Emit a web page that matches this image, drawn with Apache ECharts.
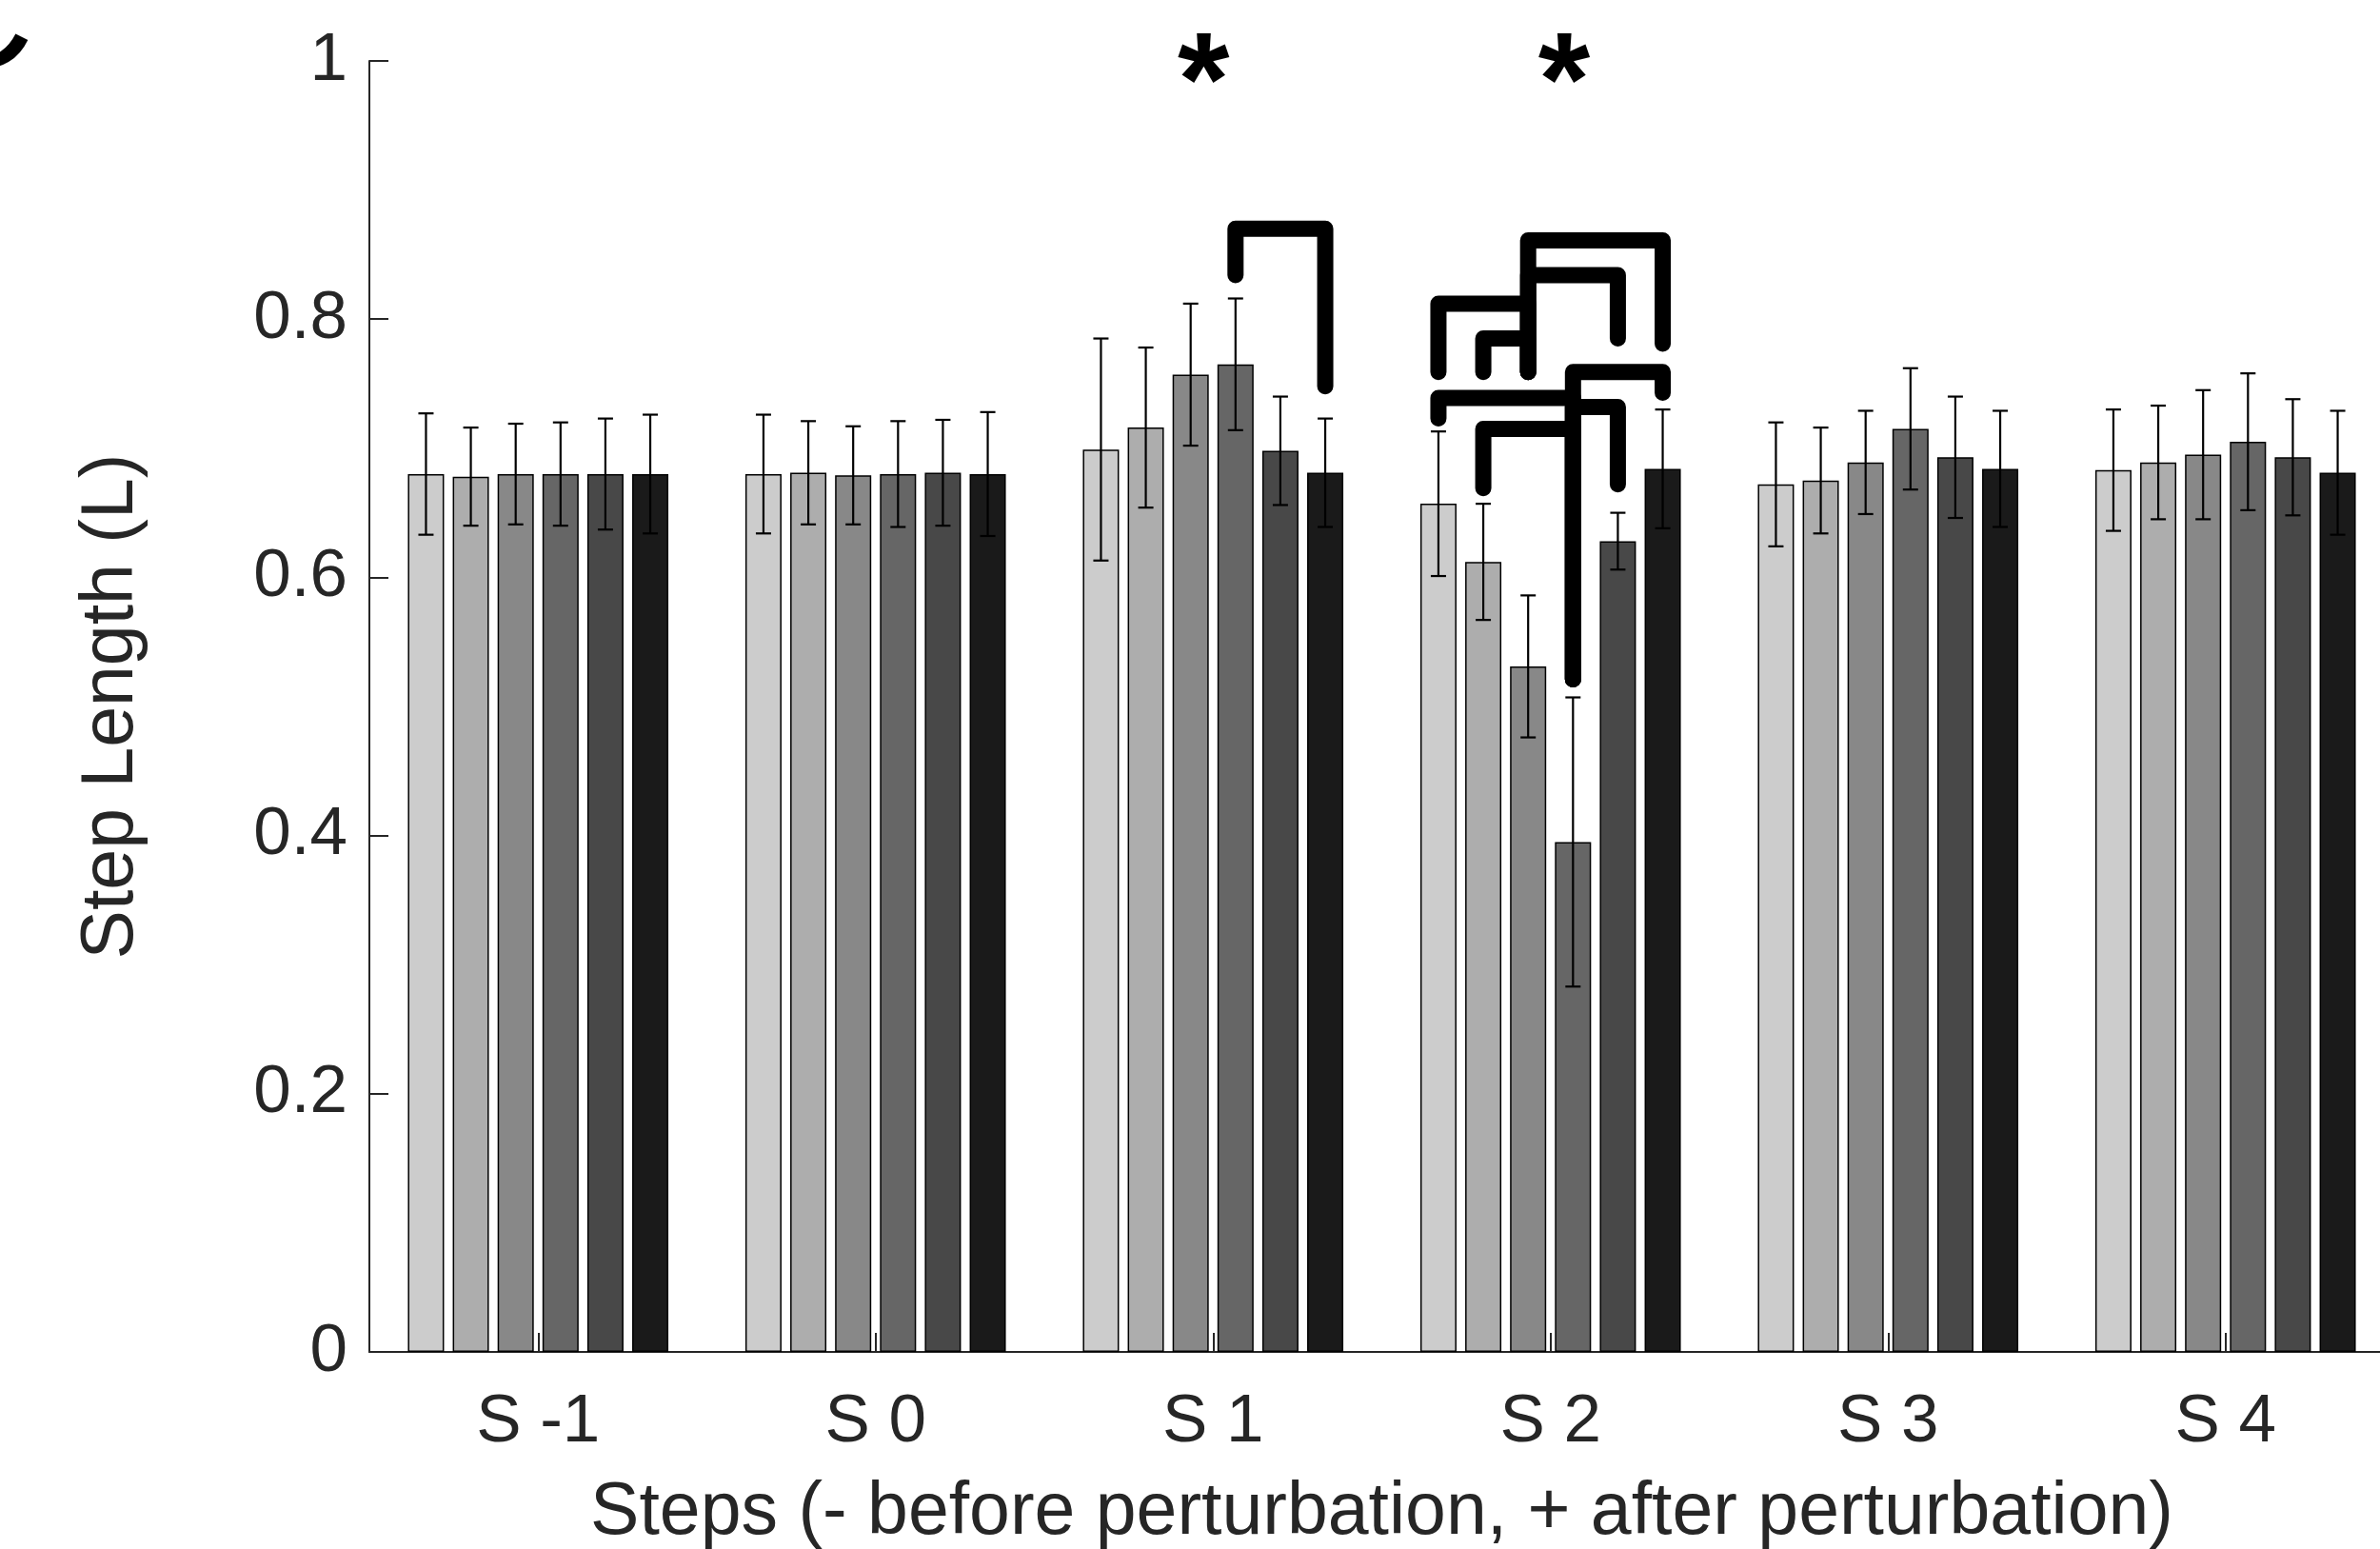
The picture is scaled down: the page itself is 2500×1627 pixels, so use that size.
<!DOCTYPE html>
<html>
<head>
<meta charset="utf-8">
<title>Step Length</title>
<script src="https://cdn.jsdelivr.net/npm/echarts@6/dist/echarts.min.js"></script>
<style>
  html, body { margin:0; padding:0; background:#fff; }
  #chart { width:2500px; height:1627px; }
</style>
</head>
<body>
<div id="chart"></div>
<script>
// ---- data ----
const steps = ['S -1','S 0','S 1','S 2','S 3','S 4'];

// mean step length per shade (light -> dark), one value per step
const mean1 = [0.680, 0.680, 0.699, 0.657, 0.672, 0.683];
const mean2 = [0.678, 0.681, 0.716, 0.612, 0.675, 0.689];
const mean3 = [0.680, 0.679, 0.757, 0.531, 0.689, 0.695];
const mean4 = [0.680, 0.680, 0.765, 0.395, 0.715, 0.705];
const mean5 = [0.680, 0.681, 0.698, 0.628, 0.693, 0.693];
const mean6 = [0.680, 0.680, 0.681, 0.684, 0.684, 0.681];

// error bar half-lengths
const err1 = [0.047, 0.046, 0.086, 0.056, 0.048, 0.047];
const err2 = [0.038, 0.040, 0.062, 0.045, 0.041, 0.044];
const err3 = [0.039, 0.038, 0.055, 0.055, 0.040, 0.050];
const err4 = [0.040, 0.041, 0.051, 0.112, 0.047, 0.053];
const err5 = [0.043, 0.041, 0.042, 0.022, 0.047, 0.045];
const err6 = [0.046, 0.048, 0.042, 0.046, 0.045, 0.048];

const shades = ['#cccccc','#adadad','#888888','#666666','#484848','#1a1a1a'];

// significance brackets: [step, barA, barB, top, endA, endB]
const brackets = [
  [2, 3, 5, 0.870, 0.834, 0.748],
  [3, 2, 5, 0.861, 0.759, 0.781],
  [3, 2, 4, 0.834, 0.759, 0.785],
  [3, 0, 2, 0.812, 0.759, 0.759],
  [3, 1, 2, 0.785, 0.759, 0.759],
  [3, 3, 5, 0.759, 0.521, 0.743],
  [3, 0, 3, 0.739, 0.723, 0.521],
  [3, 3, 4, 0.732, 0.521, 0.672],
  [3, 1, 3, 0.715, 0.669, 0.521]
];
// asterisks: [step, bar slot, value]
const stars = [
  [2, 2.29, 1.0],
  [3, 2.80, 1.0]
];

// ---- layout ----
const BAR_W = 38, BAR_GAP = 0.24;
const PITCH = BAR_W * (1 + BAR_GAP);
const INK = '#262626';
const FONT = "'Liberation Sans', Arial, sans-serif";

const means = [mean1, mean2, mean3, mean4, mean5, mean6];
const errs = [err1, err2, err3, err4, err5, err6];

const errData = [];
means.forEach((m, k)=>{
  m.forEach((v, g)=> errData.push([g, k, v - errs[k][g], v + errs[k][g]]));
});

function slotX(api, g, slot){
  return api.coord([g, 0])[0] + (slot - 2.5) * PITCH;
}

const series = means.map((m, k)=>({
  name: 'Shade ' + (k+1), type:'bar', data:m,
  barWidth: BAR_W, barGap: (BAR_GAP*100) + '%',
  itemStyle:{ color: shades[k], borderColor:'#000', borderWidth:1.5 },
  z: 2
}));

series.push({
  name:'errors', type:'custom', data: errData, z: 5,
  renderItem:(params, api)=>{
    const x = slotX(api, api.value(0), api.value(1));
    const lo = api.coord([api.value(0), api.value(2)])[1];
    const hi = api.coord([api.value(0), api.value(3)])[1];
    const st = { stroke:'#000', lineWidth:2.2 };
    return { type:'group', children:[
      { type:'line', shape:{ x1:x, y1:lo, x2:x, y2:hi }, style:st },
      { type:'line', shape:{ x1:x-8, y1:lo, x2:x+8, y2:lo }, style:st },
      { type:'line', shape:{ x1:x-8, y1:hi, x2:x+8, y2:hi }, style:st }
    ]};
  }
});

series.push({
  name:'brackets', type:'custom', data: brackets, z: 6,
  renderItem:(params, api)=>{
    const g = api.value(0);
    const xa = slotX(api, g, api.value(1));
    const xb = slotX(api, g, api.value(2));
    const yt = api.coord([g, api.value(3)])[1];
    const ya = api.coord([g, api.value(4)])[1];
    const yb = api.coord([g, api.value(5)])[1];
    return { type:'polyline', shape:{ points:[[xa,ya],[xa,yt],[xb,yt],[xb,yb]] },
      style:{ stroke:'#000', fill:null, lineWidth:17, lineCap:'round', lineJoin:'round' } };
  }
});

series.push({
  name:'stars', type:'custom', data: stars, z: 6,
  renderItem:(params, api)=>{
    const g = api.value(0);
    const x = slotX(api, g, api.value(1));
    const y = api.coord([g, api.value(2)])[1];
    return { type:'text', x:x, y:y + 28,
      style:{ text:'*', fill:'#000', fontSize:140, fontWeight:'bold', fontFamily:FONT,
        align:'center', verticalAlign:'middle' } };
  }
});

const chart = echarts.init(document.getElementById('chart'));
chart.setOption({
  animation:false,
  backgroundColor:'#fff',
  textStyle:{ fontFamily:FONT, color:INK },
  // plot area runs a little past the right edge (cropped figure)
  grid:{ left:388, width:2127, top:64, bottom:207, containLabel:false, outerBoundsMode:'none' },
  xAxis:{
    type:'category', data:steps,
    axisLine:{ show:true, lineStyle:{ color:INK, width:2 } },
    axisTick:{ show:true, inside:true, alignWithLabel:true, length:20, lineStyle:{ color:INK, width:2 } },
    axisLabel:{ fontSize:71, color:INK, margin:39, fontFamily:FONT },
    name:'Steps (- before perturbation, + after perturbation)',
    nameLocation:'middle', nameGap:131,
    nameTextStyle:{ fontSize:77, color:INK, fontFamily:FONT }
  },
  yAxis:{
    type:'value', min:0, max:1, interval:0.2,
    axisLine:{ show:true, lineStyle:{ color:INK, width:2 } },
    axisTick:{ show:true, inside:true, length:20, lineStyle:{ color:INK, width:2 } },
    splitLine:{ show:false },
    axisLabel:{ fontSize:71, color:INK, margin:23, fontFamily:FONT, formatter:(v)=> String(+v.toFixed(1)) },
    name:'Step Length (L)', nameLocation:'middle', nameGap:232,
    nameTextStyle:{ fontSize:77, color:INK, fontFamily:FONT }
  },
  graphic:[
    // cropped panel letter at the top-left corner
    { type:'text', x:-87, y:-61, style:{ text:'C', fill:'#000', font:"170px 'Liberation Sans'" } }
  ],
  series: series
});
window.addEventListener('resize', ()=> chart.resize());
</script>
</body>
</html>
